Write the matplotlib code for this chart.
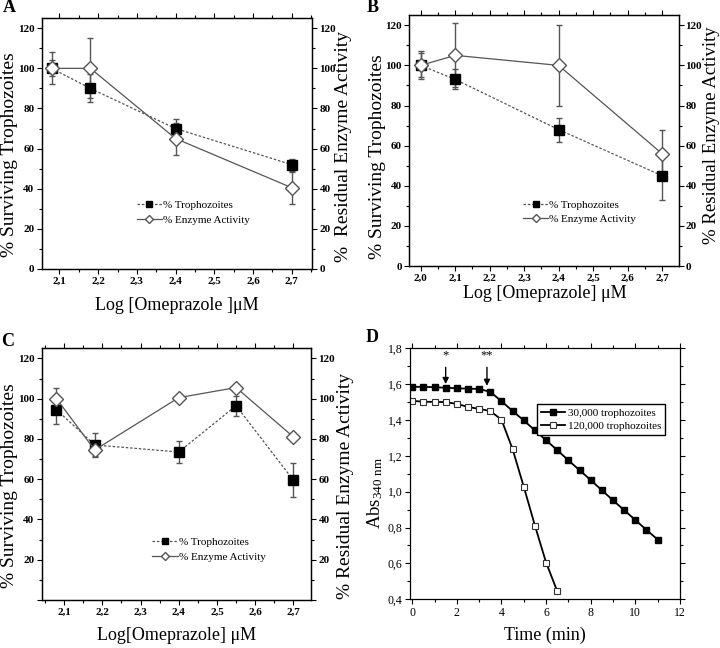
import numpy as np
import matplotlib
matplotlib.use('Agg')
import matplotlib.pyplot as plt
from matplotlib.ticker import MultipleLocator, FuncFormatter

plt.rcParams['font.family'] = ['Liberation Serif', 'DejaVu Serif']
plt.rcParams['mathtext.fontset'] = 'custom'
plt.rcParams['mathtext.rm'] = 'Liberation Serif'
plt.rcParams['mathtext.it'] = 'Liberation Serif'

# panel A
a_x = [2.08, 2.18, 2.40, 2.70]
a_tro = [100, 90, 70, 52]
a_tro_err = [8, 7, 5, 3]
a_enz = [100, 100, 65, 40.5]
a_enz_err = [4, 15, 8, 8]

# panel B
b_x = [2.0, 2.1, 2.4, 2.7]
b_tro = [100, 93, 68, 45]
b_tro_err = [6, 5, 6, 12]
b_enz = [100, 105, 100, 56]
b_enz_err = [7, 16, 20, 12]

# panel C
c_x = [2.08, 2.18, 2.40, 2.55, 2.70]
c_tro = [94.5, 77, 73.5, 96.5, 59.5]
c_tro_err = [7, 6, 5.5, 5, 8.5]
c_enz = [100, 74.5, 100.5, 105.5, 81]
c_enz_err = [5.5, 3, 1, 1.5, 2]

# panel D
d_t1 = [0, 0.5, 1, 1.5, 2, 2.5, 3, 3.5, 4, 4.5, 5, 5.5, 6, 6.5, 7, 7.5, 8, 8.5, 9, 9.5, 10, 10.5, 11]
d_30k = [1.585, 1.585, 1.583, 1.580, 1.577, 1.575, 1.573, 1.557, 1.505, 1.450, 1.398, 1.342,
         1.287, 1.232, 1.175, 1.120, 1.065, 1.008, 0.952, 0.897, 0.842, 0.787, 0.733]
d_t2 = [0, 0.5, 1, 1.5, 2, 2.5, 3, 3.5, 4, 4.5, 5, 5.5, 6, 6.5]
d_120k = [1.507, 1.502, 1.501, 1.500, 1.490, 1.473, 1.462, 1.450, 1.402, 1.237, 1.028, 0.811, 0.605, 0.445]

LC = '#555555'
W, H = 720.0, 648.0
comma1 = FuncFormatter(lambda v, p: ('%.1f' % v).replace('.', ','))

fig = plt.figure(figsize=(7.2, 6.48), dpi=100)


def px_text(x, y, s, size, rot=0, **kw):
    fig.text(x / W, 1 - y / H, s, fontsize=size, rotation=rot, ha='center', va='center', **kw)


def dose_panel(rect, x, tro, tro_err, enz, enz_err, xlim, leg_anchor, show_zero=True, rpad=2):
    ax = fig.add_axes(rect)
    ax.errorbar(x, tro, yerr=tro_err, fmt='none', ecolor=LC, capsize=2.5, elinewidth=1)
    ax.errorbar(x, enz, yerr=enz_err, fmt='none', ecolor=LC, capsize=2.5, elinewidth=1)
    ax.plot(x, tro, color=LC, ls=(0, (2, 1.5)), lw=0.9, marker='s', ms=7.5,
            mfc='black', mec='black', label='% Trophozoites')
    ax.plot(x, enz, color=LC, ls='-', lw=0.9, marker='D', ms=7.5,
            mfc='white', mec=LC, mew=1, label='% Enzyme Activity')
    ax.set_xlim(*xlim)
    ax.set_ylim(0, 125)
    ax.xaxis.set_major_locator(MultipleLocator(0.1))
    ax.xaxis.set_minor_locator(MultipleLocator(0.05))
    ax.xaxis.set_major_formatter(comma1)
    ax.yaxis.set_major_locator(MultipleLocator(20))
    ax.yaxis.set_minor_locator(MultipleLocator(10))
    ax.tick_params(which='both', top=True, direction='out')
    ax2 = ax.twinx()
    ax2.set_ylim(0, 125)
    ax2.yaxis.set_major_locator(MultipleLocator(20))
    ax2.yaxis.set_minor_locator(MultipleLocator(10))
    for a in (ax, ax2):
        a.tick_params(which='major', length=3.5, width=0.8, labelsize=8, pad=2)
        a.tick_params(which='minor', length=2, width=0.8)
        for s in a.spines.values():
            s.set_linewidth(0.9)
    ax2.tick_params(which='major', pad=rpad)
    if not show_zero:
        f = FuncFormatter(lambda v, p: '' if v < 1 else '%d' % v)
        ax.yaxis.set_major_formatter(f)
        ax2.yaxis.set_major_formatter(f)
    for a in (ax, ax2):
        for lab in a.get_xticklabels() + a.get_yticklabels():
            lab.set_fontweight('bold')
    ax.legend(loc='center left', bbox_to_anchor=leg_anchor, frameon=False, fontsize=8,
              handlelength=2.3, handletextpad=0.1, labelspacing=0.45, borderpad=0,
              markerscale=0.6)
    return ax


dose_panel([0.0583, 0.5849, 0.375, 0.387], a_x, a_tro, a_tro_err, a_enz, a_enz_err,
           (2.055, 2.752), (0.33, 0.225))
px_text(10, 155, '% Surviving Trophozoites', 14, 90)
px_text(344, 147, '%  Residual Enzyme Activity', 14, 90)
px_text(177, 305, 'Log [Omeprazole ]μM', 13)

dose_panel([0.5685, 0.5895, 0.3745, 0.387], b_x, b_tro, b_tro_err, b_enz, b_enz_err,
           (1.967, 2.749), (0.40, 0.215), rpad=1.2)
px_text(377, 157, '% Surviving Trophozoites', 14, 90)
px_text(711, 135, '% Residual Enzyme Activity', 13.5, 90)
px_text(545, 293, 'Log [Omeprazole] μM', 13)

dose_panel([0.0583, 0.0741, 0.3736, 0.3884], c_x, c_tro, c_tro_err, c_enz, c_enz_err,
           (2.042, 2.746), (0.39, 0.20), show_zero=False)
px_text(10, 486, '% Surviving Trophozoites', 14, 90)
px_text(345, 486, '% Residual Enzyme Activity', 14, 90)
px_text(177, 635, 'Log[Omeprazole] μM', 13)

# panel D
axd = fig.add_axes([0.5694, 0.0752, 0.375, 0.3873])
axd.plot(d_t1, d_30k, color='black', lw=1.3, marker='s', ms=4.5, mfc='black', mec='black',
         label='30,000 trophozoites')
axd.plot(d_t2, d_120k, color='black', lw=1.3, marker='s', ms=4.5, mfc='white', mec='#333333',
         mew=0.8, label='120,000 trophozoites')
axd.set_xlim(-0.1, 12)
axd.set_ylim(0.4, 1.8)
axd.xaxis.set_major_locator(MultipleLocator(2))
axd.xaxis.set_minor_locator(MultipleLocator(1))
axd.yaxis.set_major_locator(MultipleLocator(0.2))
axd.yaxis.set_minor_locator(MultipleLocator(0.1))
axd.yaxis.set_major_formatter(comma1)
axd.tick_params(which='both', top=True, right=True)
axd.tick_params(which='major', length=3.5, width=0.8, labelsize=8.5, pad=2)
axd.tick_params(which='minor', length=2, width=0.8)
for s in axd.spines.values():
    s.set_linewidth(0.9)
px_text(375, 493, r'Abs$_{\mathrm{340\ nm}}$', 13.5, 90)
px_text(545, 635, 'Time (min)', 13)
axd.legend(loc='upper right', bbox_to_anchor=(0.965, 0.80), fontsize=8, fancybox=False,
           edgecolor='black', framealpha=1, handlelength=2.2, handletextpad=0.2,
           borderpad=0.35, labelspacing=0.3)
axd.annotate('*', xy=(1.5, 1.585), xytext=(1.5, 1.725), ha='center', va='bottom', fontsize=9,
             arrowprops=dict(arrowstyle='-|>', color='black', lw=1, mutation_scale=9))
axd.annotate('**', xy=(3.35, 1.575), xytext=(3.35, 1.725), ha='center', va='bottom', fontsize=9,
             arrowprops=dict(arrowstyle='-|>', color='black', lw=1, mutation_scale=9))

for t, x, y in [('A', 9, 8), ('B', 373, 7), ('C', 8, 341), ('D', 372, 337)]:
    px_text(x, y, t, 13, fontweight='bold')

fig.savefig('out.png', dpi=100)
